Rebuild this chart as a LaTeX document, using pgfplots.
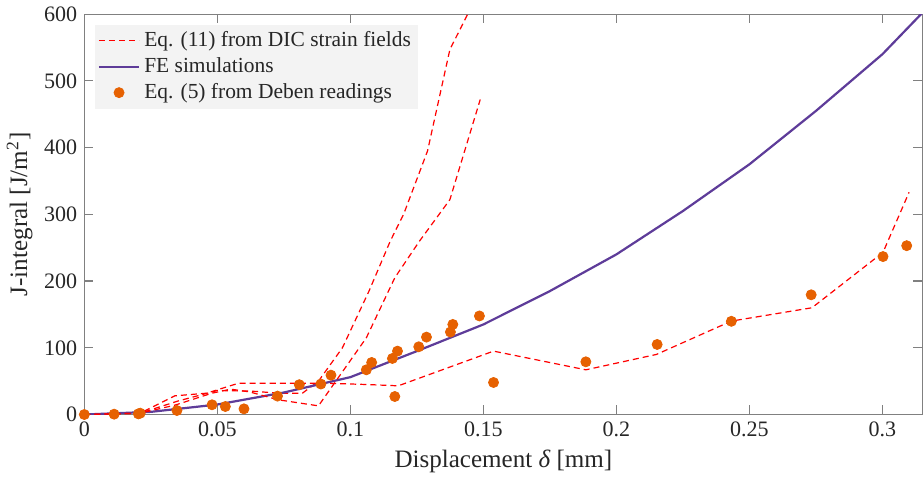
\documentclass[border=0pt]{standalone}
\usepackage{fontspec}
\setmainfont{Liberation Serif}
\usepackage{pgfplots}
\pgfplotsset{compat=1.18}

\definecolor{dicred}{RGB}{255,0,0}
\definecolor{fepurple}{RGB}{94,60,153}
\definecolor{debenorange}{RGB}{230,97,1}
\definecolor{axisgray}{RGB}{128,128,128}
\definecolor{legendbg}{RGB}{243,243,243}
\definecolor{textdark}{RGB}{38,38,38}

\begin{document}
\begin{tikzpicture}
\begin{axis}[
  scale only axis,
  width=416.5bp, height=199bp,
  xmin=0, xmax=0.315,
  ymin=0, ymax=600,
  xtick={0,0.05,0.1,0.15,0.2,0.25,0.3},
  xticklabels={0,0.05,0.1,0.15,0.2,0.25,0.3},
  ytick={0,100,200,300,400,500,600},
  yticklabels={0,100,200,300,400,500,600},
  scaled x ticks=false,
  /pgf/number format/assume math mode=true,
  axis line style={axisgray, line width=0.6bp},
  tick style={axisgray, line width=0.6bp},
  major tick length=4.5bp,
  tick align=inside,
  ticklabel style={font=\fontsize{11}{13}\selectfont, text=textdark},
  label style={font=\fontsize{12.5}{15}\selectfont, text=textdark},
  xlabel={Displacement {\itshape δ} [mm]},
  ylabel={J-integral [J/m\textsuperscript{2}]},
  ylabel style={yshift=-1bp},
  legend style={at={(0.012,0.975)}, anchor=north west, draw=none,
    fill=legendbg, font=\fontsize{10.7}{12.5}\selectfont, text=textdark,
    inner sep=1.5bp},
  legend cell align=left,
  legend image code/.code={%
    \draw[mark repeat=2,mark phase=2,#1] plot coordinates {(0bp,0bp) (10bp,0bp) (20bp,0bp)};},
]
% DIC strain fields, first specimen curve (leaves the top)
\addplot[dicred, line width=0.6bp, dash pattern=on 3bp off 2bp] coordinates {
  (0,0) (0.021,2) (0.035,20) (0.050,36) (0.063,35) (0.073,32) (0.082,32)
  (0.088,50) (0.097,100) (0.107,185) (0.115,260) (0.120,300) (0.129,395)
  (0.1374,547) (0.146,615)};
\addlegendentry{Eq. (11) from DIC strain fields}
% FE simulations
\addplot[fepurple, line width=1.1bp] coordinates {
  (0,0) (0.025,4) (0.05,15) (0.075,33) (0.1,56) (0.125,95) (0.15,135)
  (0.175,185) (0.2,240) (0.225,305) (0.25,375) (0.275,455) (0.3,540) (0.315,602)};
\addlegendentry{FE simulations}
% Deben readings
\addplot[only marks, mark=*, mark size=2.5bp, color=debenorange] coordinates {
  (0,0) (0.0112,0.5) (0.0203,1) (0.021,2) (0.0348,6) (0.048,14.6) (0.053,12)
  (0.060,8.5) (0.0726,27.6) (0.0808,44.7) (0.0889,45.7) (0.0927,59)
  (0.106,67) (0.108,78) (0.1158,84) (0.1177,95) (0.1167,27) (0.1257,101.5)
  (0.1286,116) (0.1376,123.6) (0.1385,135) (0.1485,147.7) (0.1538,48)
  (0.1885,79) (0.2153,105) (0.2432,139.7) (0.2732,179.4) (0.3002,236.7)
  (0.3091,253)};
\addlegendentry{Eq. (5) from Deben readings}
% DIC strain fields, second curve
\addplot[dicred, line width=0.6bp, dash pattern=on 3bp off 2bp, forget plot] coordinates {
  (0,0) (0.021,2) (0.034,14) (0.048,32) (0.055,38) (0.062,34) (0.073,22)
  (0.088,13) (0.106,115) (0.1167,205) (0.126,260) (0.1374,322) (0.1488,472)};
% DIC strain fields, third curve
\addplot[dicred, line width=0.6bp, dash pattern=on 3bp off 2bp, forget plot] coordinates {
  (0,0) (0.021,2) (0.034,28) (0.046,32) (0.058,47) (0.090,47) (0.106,45)
  (0.118,43) (0.1538,95) (0.1885,67) (0.215,90) (0.2432,140) (0.2735,160)
  (0.3002,243) (0.3100,333)};
\end{axis}
\end{tikzpicture}
\end{document}
